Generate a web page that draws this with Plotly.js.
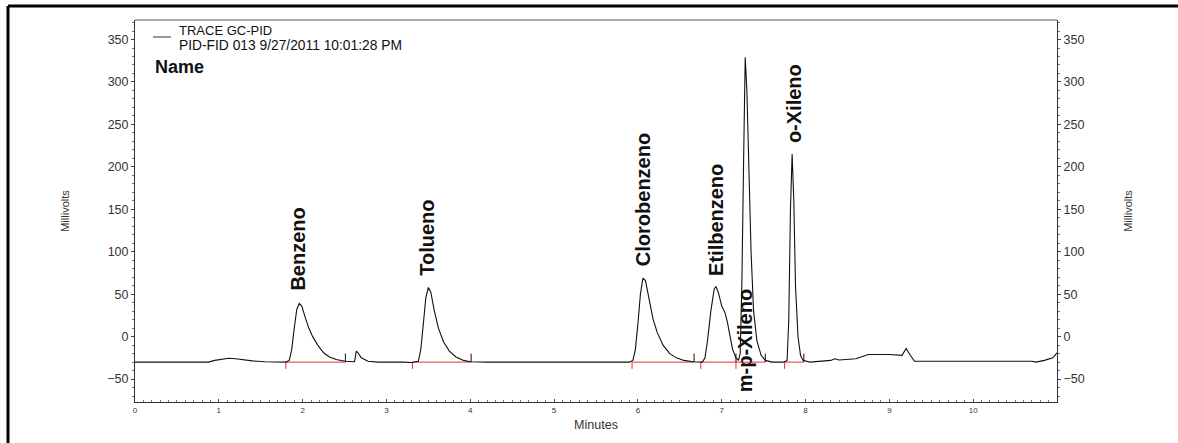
<!DOCTYPE html>
<html>
<head>
<meta charset="utf-8">
<script src="https://cdn.plot.ly/plotly-3.0.1.min.js"></script>
<style>
html,body{margin:0;padding:0;background:#fff;}
#chart{width:1178px;height:443px;}
</style>
</head>
<body>
<div id="chart"></div>
<script>
// Chromatogram signal (minutes, millivolts)
const timeMin = [0.00,0.50,0.88,0.95,1.05,1.12,1.20,1.30,1.40,1.55,1.80,1.84,1.87,1.90,1.93,1.96,1.99,2.03,2.07,2.12,2.18,2.25,2.32,2.40,2.49,2.51,2.62,2.64,2.66,2.70,2.78,2.90,3.20,3.30,3.38,3.41,3.44,3.47,3.50,3.53,3.57,3.62,3.68,3.75,3.83,3.92,4.00,4.20,4.60,5.00,5.50,5.90,5.94,5.97,6.00,6.03,6.06,6.09,6.13,6.18,6.23,6.30,6.38,6.46,6.55,6.66,6.77,6.80,6.83,6.87,6.91,6.93,6.96,7.00,7.04,7.07,7.10,7.13,7.17,7.20,7.22,7.24,7.26,7.28,7.30,7.32,7.35,7.38,7.42,7.47,7.52,7.60,7.74,7.78,7.80,7.82,7.84,7.86,7.88,7.91,7.94,7.97,8.05,8.30,8.35,8.40,8.60,8.75,9.00,9.15,9.20,9.25,9.30,9.60,10.20,10.70,10.75,10.85,10.95,11.00];
const signalMv = [-30,-30,-30,-28,-26,-25.5,-26,-27.5,-28.5,-29.5,-30,-28,-15,10,32,39,36,23,11,0,-10,-19,-24,-27,-28.5,-29,-29.5,-17,-19,-25,-29,-30,-30,-30.5,-29,-15,15,46,58,52,31,10,-6,-17,-24,-28,-29.5,-30,-30,-30,-30,-30,-28,-15,15,50,69,66,46,21,5,-10,-20,-25,-28,-29.5,-30,-25,-5,30,56,59,52,36,28,16,0,-15,-25,-28,-20,60,200,329,290,200,100,30,-5,-22,-28,-30,-30,-28,20,150,215,160,60,0,-22,-28,-30,-28,-26,-27.5,-26,-21,-21,-22,-14,-22,-29,-29,-29,-29,-30,-28,-25,-19];

// Integration events
const peakStart = [1.80,3.31,5.93,6.75,7.17,7.75];
const peakEnd   = [2.51,4.01,6.67,7.17,7.52,7.98];
const baselineMv = -30;
const startTickMv = -38;
const endTickMv = -20;

// Peak names and label anchors
const peakNames = ["Benzeno","Tolueno","Clorobenzeno","Etilbenzeno","m-p-Xileno","o-Xileno"];
const labelTime = [1.94,3.48,6.07,6.93,7.27,7.86];
const labelBase = [52,69,81,69,-68,226];

const yTicks = [-50,0,50,100,150,200,250,300,350];
const xTicks = [0,1,2,3,4,5,6,7,8,9,10];

// Build red baseline segments + start ticks
const redX = [], redY = [];
peakStart.forEach((s,i)=>{
  redX.push(s,s,null,s,peakEnd[i],null);
  redY.push(baselineMv,startTickMv,null,baselineMv,baselineMv,null);
});
// Black end markers
const endX = [], endY = [];
peakEnd.forEach(e=>{ endX.push(e,e,null); endY.push(baselineMv,endTickMv,null); });

const traces = [
  {x:redX,y:redY,type:'scatter',mode:'lines',line:{color:'#e8302a',width:1},hoverinfo:'skip',showlegend:false},
  {x:endX,y:endY,type:'scatter',mode:'lines',line:{color:'#111',width:1},hoverinfo:'skip',showlegend:false},
  {x:timeMin,y:signalMv,type:'scatter',mode:'lines',line:{color:'#111',width:1.1},name:'TRACE GC-PID',showlegend:false},
  {x:[0,11],y:[-77,373],yaxis:'y2',type:'scatter',mode:'none',hoverinfo:'skip',showlegend:false}
];

const annFont = {family:'Liberation Sans, Arial, sans-serif',size:20,color:'#111'};
const annotations = peakNames.map((n,i)=>({
  x:labelTime[i],y:labelBase[i],xref:'x',yref:'y',text:'<b>'+n+'</b>',showarrow:false,
  textangle:-90,xanchor:'center',yanchor:'bottom',font:annFont
}));
annotations.push(
  {xref:'paper',yref:'paper',x:(177-135)/922,y:(402-31)/382,xanchor:'left',yanchor:'middle',showarrow:false,
   text:'TRACE GC-PID',font:{family:'Liberation Sans, Arial, sans-serif',size:13,color:'#111'}},
  {xref:'paper',yref:'paper',x:(177-135)/922,y:(402-45)/382,xanchor:'left',yanchor:'middle',showarrow:false,
   text:'PID-FID 013 9/27/2011 10:01:28 PM',font:{family:'Liberation Sans, Arial, sans-serif',size:13.8,color:'#111'}},
  {xref:'paper',yref:'paper',x:(153-135)/922,y:(402-67)/382,xanchor:'left',yanchor:'middle',showarrow:false,
   text:'<b>Name</b>',font:{family:'Liberation Sans, Arial, sans-serif',size:18,color:'#111'}}
);

const axFont = {family:'Liberation Sans, Arial, sans-serif',size:12.5,color:'#333'};
const layout = {
  width:1178,height:443,
  margin:{l:135,r:121,t:20,b:41},
  paper_bgcolor:'#fff',plot_bgcolor:'#fff',
  showlegend:false,
  xaxis:{range:[0,11],tickvals:xTicks,ticktext:xTicks.map(String),showgrid:false,zeroline:false,
    showline:true,linecolor:'#333',linewidth:1,mirror:false,ticks:'inside',ticklen:3,tickcolor:'#555',
    minor:{dtick:0.1,ticks:'inside',ticklen:2,tickcolor:'#777'},
    tickfont:{family:'Liberation Sans, Arial, sans-serif',size:8,color:'#333'},
    title:{text:'Minutes',font:axFont,standoff:6}},
  yaxis:{range:[-77,373],tickvals:yTicks,showgrid:false,zeroline:false,showline:true,linecolor:'#333',linewidth:1,
    ticks:'outside',ticklen:3,tickcolor:'#444',minor:{dtick:10,ticks:'outside',ticklen:2,tickcolor:'#777'},
    tickfont:axFont,title:{text:'Millivolts',font:{family:'Liberation Sans, Arial, sans-serif',size:11,color:'#333'},standoff:35}},
  yaxis2:{range:[-77,373],overlaying:'y',side:'right',tickvals:yTicks,showgrid:false,zeroline:false,showline:true,
    linecolor:'#333',linewidth:1,ticks:'outside',ticklen:3,tickcolor:'#444',minor:{dtick:10,ticks:'outside',ticklen:2,tickcolor:'#777'},
    tickfont:axFont,title:{text:'Millivolts',font:{family:'Liberation Sans, Arial, sans-serif',size:11,color:'#333'},standoff:40}},
  annotations:annotations,
  shapes:[
    {type:'line',xref:'paper',yref:'paper',x0:0,x1:1,y0:1,y1:1,line:{color:'#555',width:1}},
    {type:'line',xref:'paper',yref:'paper',x0:(153-135)/922,x1:(171-135)/922,y0:(402-37)/382,y1:(402-37)/382,line:{color:'#555',width:1.2}},
    {type:'line',xref:'paper',yref:'paper',x0:(8-135)/922,x1:(1178-135)/922,y0:(402-6)/382,y1:(402-6)/382,line:{color:'#000',width:3}},
    {type:'line',xref:'paper',yref:'paper',x0:(8-135)/922,x1:(8-135)/922,y0:(402-6)/382,y1:(402-443)/382,line:{color:'#000',width:3}}
  ]
};
Plotly.newPlot('chart',traces,layout,{displayModeBar:false,staticPlot:true});
</script>
</body>
</html>
